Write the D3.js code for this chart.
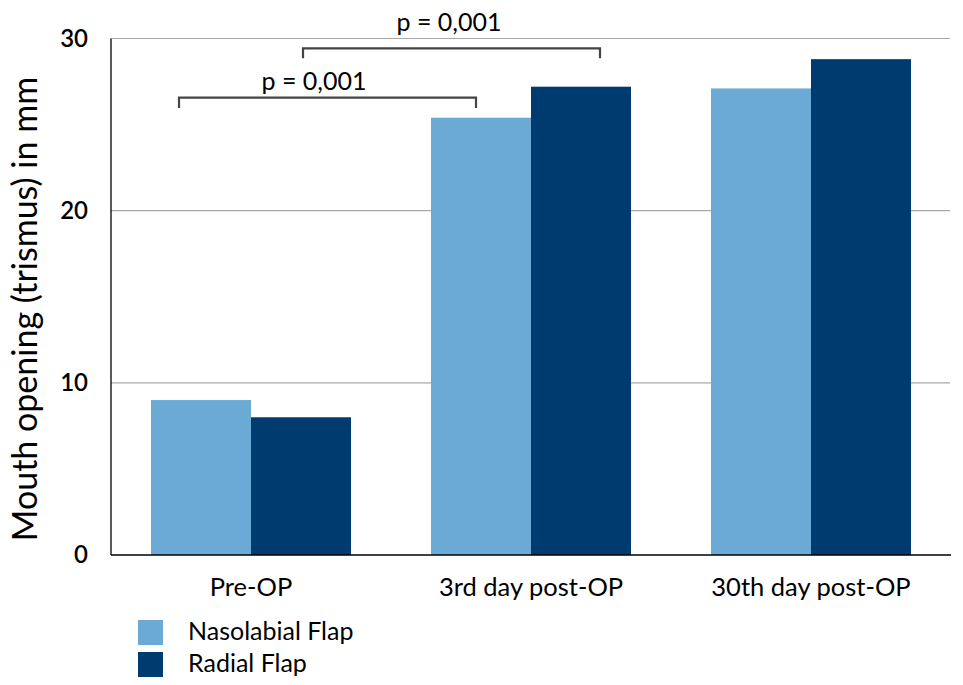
<!DOCTYPE html>
<html>
<head>
<meta charset="utf-8">
<script src="https://cdn.jsdelivr.net/npm/d3@7"></script>
<style>
  html, body { margin: 0; padding: 0; background: #fff; }
  svg { display: block; font-family: Lato, "Open Sans", sans-serif; }
</style>
</head>
<body>
<svg id="chart" width="963" height="685"></svg>
<script>
const categories = ["Pre-OP", "3rd day post-OP", "30th day post-OP"];
const seriesNames = ["Nasolabial Flap", "Radial Flap"];
const nasolabial = [9.0, 25.4, 27.1];
const radial = [8.0, 27.2, 28.8];
const yTicks = [0, 10, 20, 30];
const colors = ["#6aaad4", "#003b6f"];
const pLabels = ["p = 0,001", "p = 0,001"];

const svg = d3.select("#chart");
const mLeft = 111, mRight = 951, mTop = 38.5, mBottom = 555;

const x = d3.scaleBand().domain(categories).range([mLeft, mRight])
  .paddingInner(0.2857).paddingOuter(0.1429);
const xs = d3.scaleBand().domain(seriesNames).range([0, x.bandwidth()]);
const y = d3.scaleLinear().domain([0, 30]).range([mBottom, mTop]);

// gridlines
svg.append("g").selectAll("line").data(yTicks.filter(d => d > 0)).join("line")
  .attr("x1", mLeft).attr("x2", 950)
  .attr("y1", d => y(d)).attr("y2", d => y(d))
  .attr("stroke", "#a8a8a8").attr("stroke-width", 1.2);

// bars
const data = categories.map((c, i) => ({ c, vals: [nasolabial[i], radial[i]] }));
const groups = svg.append("g").selectAll("g").data(data).join("g")
  .attr("transform", d => `translate(${x(d.c)},0)`);
groups.selectAll("rect").data(d => d.vals.map((v, j) => ({ v, s: seriesNames[j], j })))
  .join("rect")
  .attr("x", d => xs(d.s)).attr("width", xs.bandwidth())
  .attr("y", d => y(d.v)).attr("height", d => y(0) - y(d.v))
  .attr("fill", d => colors[d.j]);

// axes lines
svg.append("line").attr("x1", mLeft).attr("x2", mLeft).attr("y1", mTop).attr("y2", mBottom)
  .attr("stroke", "#000").attr("stroke-width", 1.3);
svg.append("line").attr("x1", mLeft).attr("x2", 951).attr("y1", mBottom).attr("y2", mBottom)
  .attr("stroke", "#000").attr("stroke-width", 1.3);

// y tick labels
svg.append("g").selectAll("text").data(yTicks).join("text")
  .attr("x", 88).attr("y", d => y(d)).attr("dy", "0.35em")
  .attr("text-anchor", "end").attr("font-size", 24).attr("font-weight", 600)
  .attr("fill", "#000").text(d => d);

// x labels
svg.append("g").selectAll("text").data(categories).join("text")
  .attr("x", d => x(d) + x.bandwidth() / 2).attr("y", 596)
  .attr("text-anchor", "middle").attr("font-size", 25.5).attr("fill", "#000")
  .text(d => d);

// y title
svg.append("text")
  .attr("transform", `translate(37,${(75 + 543) / 2}) rotate(-90)`)
  .attr("text-anchor", "middle").attr("font-size", 34).attr("fill", "#000")
  .text("Mouth opening (trismus) in mm");

// significance brackets
const brackets = [
  { x1: x(categories[0]) + 28, x2: x(categories[1]) + 45, yb: 97.7, yt: 108, label: pLabels[0], lx: 314, ly: 90 },
  { x1: x(categories[0]) + 152, x2: x(categories[1]) + 169, yb: 48.3, yt: 58.3, label: pLabels[1], lx: 449, ly: 31 }
];
brackets.forEach(b => {
  svg.append("path")
    .attr("d", `M${b.x1},${b.yt}V${b.yb}H${b.x2}V${b.yt}`)
    .attr("fill", "none").attr("stroke", "#444").attr("stroke-width", 2.2);
  svg.append("text").attr("x", b.lx).attr("y", b.ly).attr("text-anchor", "middle")
    .attr("font-size", 25).attr("fill", "#000").text(b.label);
});

// legend
const leg = svg.append("g").selectAll("g").data(seriesNames).join("g")
  .attr("transform", (d, i) => `translate(138,${620 + i * 32})`);
leg.append("rect").attr("width", 25).attr("height", 25).attr("fill", (d, i) => colors[i]);
leg.append("text").attr("x", 50).attr("y", 20).attr("font-size", 25).attr("fill", "#000").text(d => d);
</script>
</body>
</html>
